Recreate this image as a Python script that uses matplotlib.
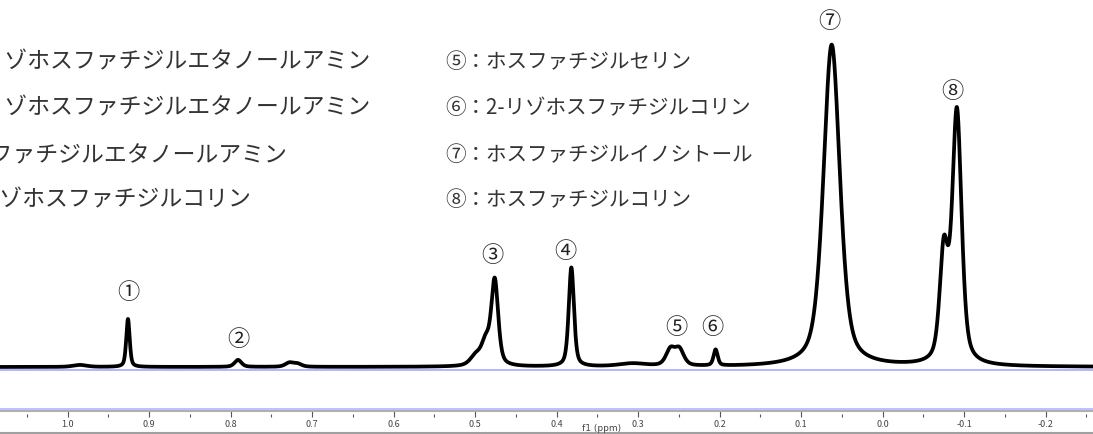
import numpy as np
import matplotlib
matplotlib.use('Agg')
import matplotlib.pyplot as plt
from matplotlib.lines import Line2D

plt.rcParams['font.family'] = ['Noto Sans CJK JP', 'DejaVu Sans']

# peaks: centre (ppm), height (above baseline), half width (ppm)
peak_ppm = [0.985, 0.926, 0.791, 0.728, 0.718, 0.499, 0.487, 0.476, 0.382, 0.307,
            0.2605, 0.2495, 0.205, 0.0626, -0.075, -0.091]
peak_height = [2, 48, 7, 4, 3, 10, 22, 85, 99, 3,
               16, 16, 16, 322, 108, 252]
peak_hwhm = [0.01, 0.0025, 0.005, 0.006, 0.006, 0.008, 0.006, 0.005, 0.0038, 0.02,
             0.0065, 0.0065, 0.003, 0.012, 0.006, 0.0068]

# peak labels
label_text = ['①', '②', '③', '④', '⑤', '⑥', '⑦', '⑧']
label_ppm = [0.926, 0.791, 0.479, 0.389, 0.253, 0.209, 0.065, -0.085]
label_height = [75, 28, 113, 117, 40, 40, 346, 276]

legend_left = ['①：1-リゾホスファチジルエタノールアミン',
               '②：2-リゾホスファチジルエタノールアミン',
               '③：ホスファチジルエタノールアミン',
               '④：1-リゾホスファチジルコリン']
legend_right = ['⑤：ホスファチジルセリン',
                '⑥：2-リゾホスファチジルコリン',
                '⑦：ホスファチジルイノシトール',
                '⑧：ホスファチジルコリン']

major_ticks = [1.0, 0.9, 0.8, 0.7, 0.6, 0.5, 0.4, 0.3, 0.2, 0.1, 0.0, -0.1, -0.2]
minor_ticks = [1.05, 0.95, 0.85, 0.75, 0.65, 0.55, 0.45, 0.35, 0.25, 0.15, 0.05, -0.05, -0.15, -0.25]

XMIN, XMAX = 1.083, -0.258
W, H = 1093, 435


def pvoigt(x, c, h, w, eta=0.5):
    d = ((x - c) / w) ** 2
    return h * (eta / (1 + d) + (1 - eta) * np.exp(-np.log(2) * d))


ppm = np.linspace(XMIN, XMAX, 6000)
spec = np.zeros_like(ppm)
for c, h, w in zip(peak_ppm, peak_height, peak_hwhm):
    spec += pvoigt(ppm, c, h, w)

fig = plt.figure(figsize=(W / 100, H / 100), dpi=100)
fig.patch.set_facecolor('white')

# spectrum
ax = fig.add_axes([0, (H - 380) / H, 1, 380 / H])
ax.plot(ppm, spec, color='black', lw=2.7, solid_joinstyle='round')
ax.axhline(-3, color='#a8a8ff', lw=1.2, zorder=0)
ax.set_xlim(XMIN, XMAX)
ax.set_ylim(-12, 368)
ax.axis('off')

for t, x, y in zip(label_text, label_ppm, label_height):
    ax.text(x, y, t, fontsize=16, ha='center', va='center', color='#222222')

# compound list (left column is cut off by the picture edge, as in the original)
rows = [62, 108, 155, 200]
left_end = [370, 370, 287, 251]
for s, y, xe in zip(legend_left, rows, left_end):
    fig.text(xe / W, 1 - y / H, s, fontsize=16.5, ha='right', va='center', color='#333333')
for s, y in zip(legend_right, rows):
    fig.text(445 / W, 1 - y / H, s, fontsize=14.8, ha='left', va='center', color='#333333')

# ppm scale
ax2 = fig.add_axes([0, (H - 418) / H, 1, 6 / H])
ax2.set_xlim(XMIN, XMAX)
ax2.set_yticks([])
for side in ['left', 'right', 'bottom']:
    ax2.spines[side].set_visible(False)
ax2.spines['top'].set_color('#b0b0b0')
ax2.spines['top'].set_linewidth(1.5)
ax2.patch.set_alpha(0)
ax2.set_xticks(major_ticks)
ax2.set_xticklabels(['%.1f' % v if v != 0 else '0.0' for v in major_ticks])
ax2.set_xticks(minor_ticks, minor=True)
ax2.tick_params(axis='x', which='major', direction='in', length=4, width=0.8,
                color='#555555', labelsize=6.5, labelcolor='#444444', pad=1.5)
ax2.tick_params(axis='x', which='minor', direction='in', length=2, width=0.8, color='#555555')

fig.add_artist(Line2D([0, 1], [1 - 409.5 / H, 1 - 409.5 / H], transform=fig.transFigure,
                      color='#b4b4ff', lw=1.2))
fig.add_artist(Line2D([0, 1], [1 - 433.5 / H, 1 - 433.5 / H], transform=fig.transFigure,
                      color='#a0a0a0', lw=1.5))
fig.text(602 / W, 1 - 429 / H, 'f1 (ppm)', fontsize=6.5, ha='center', va='center',
         color='#444444', family='DejaVu Sans')

plt.savefig('out.png', dpi=100)
